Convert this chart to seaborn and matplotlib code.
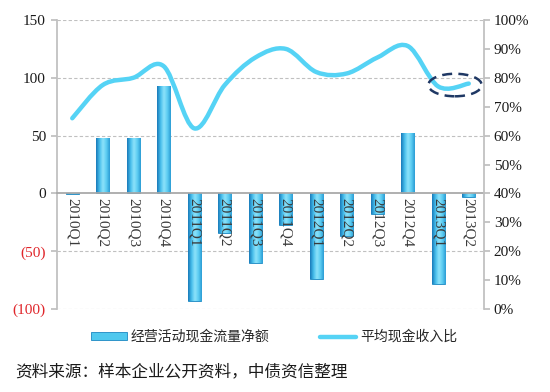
import numpy as np
import pandas as pd
import matplotlib
matplotlib.use("Agg")
import matplotlib.pyplot as plt
import seaborn as sns
from matplotlib.path import Path
from matplotlib.patches import PathPatch, Ellipse, Rectangle
from matplotlib.colors import LinearSegmentedColormap
from matplotlib.lines import Line2D

categories = ["2010Q1", "2010Q2", "2010Q3", "2010Q4", "2011Q1", "2011Q2", "2011Q3",
              "2011Q4", "2012Q1", "2012Q2", "2012Q3", "2012Q4", "2013Q1", "2013Q2"]
net_cash = [-0.6, 48, 48, 93, -93, -34, -60, -27, -74, -37, -18, 52, -78, -3]
avg_ratio = [66, 77.5, 80, 84, 62.5, 77.5, 87, 90, 82, 81.5, 87, 91, 77, 78]
left_ticks = [150, 100, 50, 0, -50, -100]
left_labels = ["150", "100", "50", "0", "(50)", "(100)"]
bar_label = "经营活动现金流量净额"
line_label = "平均现金收入比"
source_text = "资料来源：样本企业公开资料，中债资信整理"

sns.set_theme(style="white")
plt.rcParams['font.family'] = ['Liberation Serif', 'Noto Sans CJK SC', 'DejaVu Sans']

fig = plt.figure(figsize=(5.5, 3.92), dpi=100)
ax = fig.add_axes([57/550, 1-309/392, (484-57)/550, (309-20)/392])

df = pd.DataFrame({"q": categories, "v": net_cash})
sns.barplot(data=df, x="q", y="v", ax=ax, color="#4FC8EE", width=0.43,
            edgecolor="#1C87C2", linewidth=0.6, saturation=1, zorder=2)

# gradient fill on bars
cmap = LinearSegmentedColormap.from_list("cyl", ["#1878B8", "#45BDEB", "#8FE3FA", "#5CCDF2", "#2A9BD4"])
grad = np.linspace(0, 1, 64).reshape(1, -1)
for p in list(ax.patches):
    x0, y0 = p.get_x(), p.get_y()
    w, h = p.get_width(), p.get_height()
    if abs(h) < 1e-9:
        continue
    ylo, yhi = min(y0, y0 + h), max(y0, y0 + h)
    im = ax.imshow(grad, extent=[x0, x0 + w, ylo, yhi], aspect="auto", cmap=cmap,
                   zorder=2.2, interpolation="bicubic")
    im.set_clip_path(p)

ax.set_xlim(-0.5, len(categories) - 0.5)
ax.set_ylim(-100, 150)
ax.set_xlabel("")
ax.set_ylabel("")
ax.set_yticks(left_ticks)
ax.set_yticklabels(left_labels)
for t, lab in zip(ax.get_yticklabels(), left_labels):
    t.set_color("#E0262B" if lab.startswith("(") else "#1a1a1a")
    t.set_fontsize(11)
for yv in [150, 100, 50, -50, -100]:
    ax.axhline(yv, color="#C0C0C0", lw=0.8, ls=(0, (3, 2)), zorder=1)

ax.spines['bottom'].set_position(('data', 0))
ax.spines['bottom'].set_color("#A6A6A6")
ax.spines['bottom'].set_zorder(3)
ax.spines['left'].set_color("#BFBFBF")
ax.spines['top'].set_visible(False)
ax.spines['right'].set_visible(False)
ax.set_xticks(range(len(categories)))
ax.set_xticklabels(categories, rotation=270, fontsize=11, color="#3a3a3a", va="top", ha="center")
ax.set_xticks(np.arange(-0.5, len(categories), 1), minor=True)
ax.tick_params(axis="x", which="major", length=0, pad=3)
ax.tick_params(axis="x", which="minor", length=4, color="#A6A6A6", direction="out")
ax.tick_params(axis="y", length=4, color="#BFBFBF", left=True, pad=4)
ax.xaxis.set_zorder(10)

ax2 = ax.twinx()
ax2.set_ylim(0, 100)
ax2.set_yticks(range(0, 101, 10))
ax2.set_yticklabels([f"{v}%" for v in range(0, 101, 10)], fontsize=11, color="#1a1a1a")
ax2.tick_params(axis="y", length=4, color="#BFBFBF", right=True, pad=3)
for s in ["top", "left", "bottom"]:
    ax2.spines[s].set_visible(False)
ax2.spines['right'].set_color("#BFBFBF")
ax2.grid(False)

# smoothed line (Bezier through data points)
xs = np.arange(len(avg_ratio), dtype=float)
ys = np.array(avg_ratio, dtype=float)
n = len(xs)
verts = [(xs[0], ys[0])]
codes = [Path.MOVETO]
for i in range(n - 1):
    p0 = np.array([xs[max(i - 1, 0)], ys[max(i - 1, 0)]])
    p1 = np.array([xs[i], ys[i]])
    p2 = np.array([xs[i + 1], ys[i + 1]])
    p3 = np.array([xs[min(i + 2, n - 1)], ys[min(i + 2, n - 1)]])
    c1 = p1 + (p2 - p0) / 6
    c2 = p2 - (p3 - p1) / 6
    verts += [tuple(c1), tuple(c2), tuple(p2)]
    codes += [Path.CURVE4] * 3
ax2.add_patch(PathPatch(Path(verts, codes), facecolor="none", edgecolor="#55D3F5",
                        lw=3.2, capstyle="round", joinstyle="round", zorder=5))

ax2.add_patch(Ellipse((12.55, 77.5), 1.75, 7.8, facecolor="none", edgecolor="#1F3864",
                      lw=1.8, ls=(0, (4, 2.5)), zorder=6))

# legend
h1 = Rectangle((0, 0), 1, 1, facecolor="#4FC8EE", edgecolor="#1C87C2", lw=0.6)
h2 = Line2D([0], [0], color="#55D3F5", lw=3.2)
fig.legend([h1, h2], [bar_label, line_label], loc="center left",
           bbox_to_anchor=(78/550, 1-337/392), ncol=2, frameon=False,
           prop={"family": ["Noto Sans CJK SC", "DejaVu Sans"], "size": 10},
           handlelength=2.6, handleheight=0.5, columnspacing=3.6, handletextpad=0.3)

fig.text(15/550, 1-372/392, source_text, fontsize=12, color="#1a1a1a",
         family=["Noto Sans CJK SC", "DejaVu Sans"], va="center", ha="left")

fig.savefig("out.png", dpi=100)
